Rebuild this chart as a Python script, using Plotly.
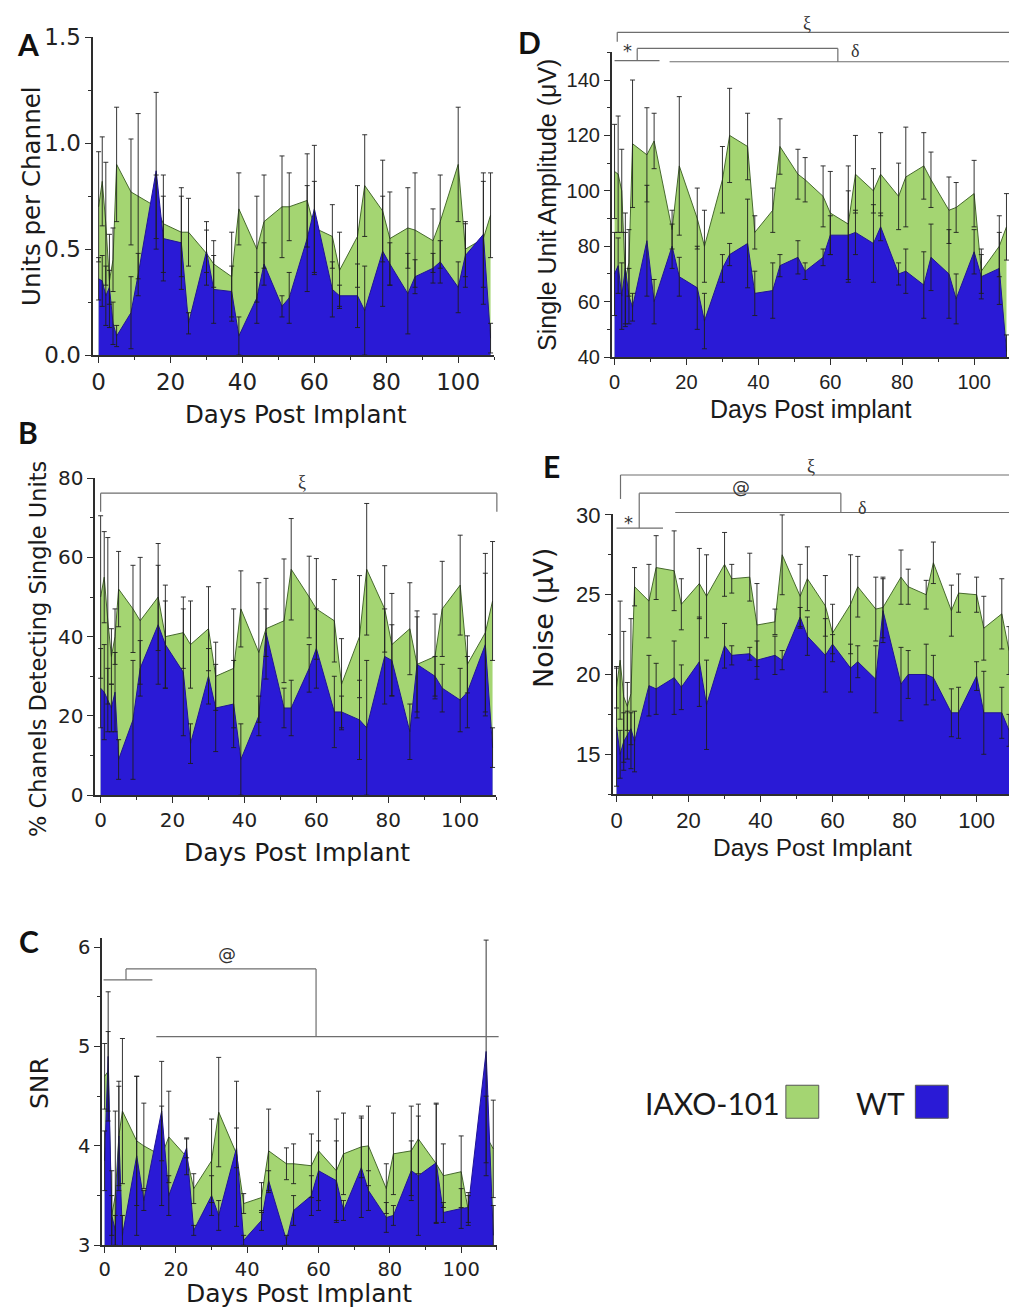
import plotly.graph_objects as go

W, H = 1009, 1315
# The photographed page is mapped vertically as y' = SC*y + OFF; compensate so targets land right.
OFF, SC = 13.0, 0.98

# ---------------- data ----------------
days = [0, 1, 2, 3, 4, 5, 9, 11, 16, 18, 23, 25, 30, 32, 37, 39, 44, 46, 51, 53,
        58, 60, 65, 67, 72, 74, 79, 81, 86, 88, 93, 95, 100, 102, 107, 109]

A_iaxo = [0.70, 0.82, 0.62, 0.35, 0.45, 0.90, 0.77, 0.75, 0.70, 0.62, 0.58, 0.58, 0.48, 0.43, 0.37, 0.69, 0.50, 0.63,
          0.70, 0.70, 0.73, 0.60, 0.56, 0.40, 0.56, 0.80, 0.68, 0.55, 0.60, 0.59, 0.54, 0.63, 0.90, 0.50, 0.55, 0.66]
A_iaxo_err = [0.26, 0.21, 0.29, 0.22, 0.15, 0.27, 0.25, 0.39, 0.15, 0.23, 0.21, 0.16, 0.15, 0.11, 0.21, 0.17, 0.25, 0.22,
              0.24, 0.16, 0.22, 0.22, 0.15, 0.18, 0.24, 0.24, 0.24, 0.22, 0.19, 0.27, 0.15, 0.22, 0.27, 0.13, 0.31, 0.20]
A_wt = [0.36, 0.35, 0.28, 0.32, 0.15, 0.09, 0.20, 0.38, 0.87, 0.55, 0.53, 0.15, 0.49, 0.31, 0.30, 0.09, 0.27, 0.43,
        0.23, 0.27, 0.55, 0.69, 0.31, 0.28, 0.28, 0.21, 0.49, 0.43, 0.29, 0.37, 0.41, 0.44, 0.32, 0.47, 0.57, 0.08]
A_wt_err = [0.10, 0.12, 0.14, 0.08, 0.10, 0.05, 0.17, 0.10, 0.37, 0.20, 0.22, 0.05, 0.10, 0.16, 0.12, 0.09, 0.12, 0.10,
            0.05, 0.12, 0.25, 0.30, 0.13, 0.05, 0.15, 0.21, 0.26, 0.10, 0.19, 0.08, 0.07, 0.10, 0.12, 0.15, 0.25, 0.07]

B_iaxo = [50, 55, 44, 35, 40, 52, 47, 44, 50, 40, 41, 38, 42, 30, 32, 47, 36, 42,
          44, 57, 50, 47, 44, 28, 40, 57, 47, 38, 42, 33, 35, 47, 53, 33, 41, 49]
B_iaxo_err = [20.5, 11.5, 21, 7, 7, 9.5, 11, 16, 13.5, 13, 9, 11, 10.6, 8.6, 15, 9.6, 17.6, 12.7,
              15.6, 12.8, 10.3, 12.7, 10.4, 11.5, 15.4, 16.6, 10.9, 12.9, 11.6, 13.5, 10.7, 12, 12.6, 7.2, 20, 15]
B_wt = [27, 26, 24, 22, 26, 9, 19, 32, 43, 38, 31, 13, 30, 22, 23, 9, 20, 41,
        22, 22, 32, 37, 21, 21, 19, 17, 35, 34, 16, 33, 30, 27, 24, 26, 38, 12]
B_wt_err = [10, 12, 8, 6, 10, 5, 15, 7, 15, 11, 16, 5, 7, 11, 11, 9, 5, 6,
            5, 7, 6, 10, 9, 4, 10, 17, 12, 9, 7, 12, 5, 6, 8, 9, 18, 5]

C_iaxo = [4.70, 4.75, 3.30, 3.50, 4.10, 4.35, 4.05, 4.00, 3.90, 4.09, 3.89, 3.57, 3.85, 4.34, 3.92, 3.42, 3.48, 3.95,
          3.82, 3.82, 3.80, 3.95, 3.75, 3.92, 3.99, 4.00, 3.57, 3.92, 3.95, 4.07, 3.82, 3.70, 3.74, 3.35, 4.10, 3.97]
C_iaxo_err = [0.33, 0.40, 0.45, 0.85, 0.55, 0.73, 0.65, 0.43, 0.50, 0.46, 0.18, 0.15, 0.42, 0.55, 0.73, 0.10, 0.15, 0.42,
              0.16, 0.20, 0.32, 0.60, 0.52, 0.41, 0.31, 0.40, 0.25, 0.41, 0.45, 0.35, 0.60, 0.32, 0.36, 0.15, 0.40, 0.49]
C_wt = [3.85, 4.90, 3.30, 3.15, 4.10, 3.10, 3.90, 3.45, 4.35, 3.50, 3.98, 3.15, 3.50, 3.30, 3.98, 3.05, 3.25, 3.65,
        3.05, 3.35, 3.50, 3.75, 3.65, 3.35, 3.78, 3.55, 3.28, 3.30, 3.75, 3.70, 3.83, 3.33, 3.37, 3.38, 4.95, 3.10]
C_wt_err = [0.30, 0.65, 0.20, 0.15, 0.50, 0.20, 0.80, 0.10, 0.50, 0.20, 0.10, 0.05, 0.20, 0.15, 0.20, 0.05, 0.10, 0.10,
            0.05, 0.15, 0.20, 0.30, 0.40, 0.10, 0.50, 0.20, 0.15, 0.10, 0.30, 0.60, 0.60, 0.10, 0.20, 0.15, 1.12, 0.30]

D_iaxo = [107, 106, 100, 68, 74, 117, 113, 118, 86, 109, 90, 80, 104, 120, 116, 85, 93, 116,
          106, 104, 98, 92, 88, 106, 100, 106, 98, 105, 109, 104, 93, 94, 99, 71, 80, 87]
D_iaxo_err = [17, 21, 15, 17, 12, 23, 17, 10, 7, 25, 11, 13, 12, 17, 12, 6, 8, 10,
              9, 8, 11, 15, 21, 14, 8, 15, 12, 18, 12, 10, 12, 9, 12, 8, 11, 12]
D_wt = [70, 73, 62, 72, 62, 58, 82, 60, 80, 69, 65, 53, 72, 77, 81, 63, 64, 73,
        76, 71, 76, 84, 84, 85, 81, 87, 70, 71, 66, 76, 70, 61, 78, 69, 72, 42]
D_wt_err = [15, 10, 12, 20, 10, 5, 20, 8, 8, 7, 15, 10, 5, 4, 16, 8, 10, 4,
            6, 3, 3, 7, 16, 8, 14, 5, 4, 8, 12, 12, 16, 9, 8, 8, 13, 6]

E_iaxo = [19.2, 20.9, 18.6, 18.0, 18.8, 25.5, 24.6, 26.7, 26.5, 24.4, 25.7, 24.9, 26.9, 26.0, 26.1, 23.1, 23.3, 27.5,
          24.9, 26.0, 24.3, 22.6, 24.4, 25.5, 24.1, 24.2, 26.1, 25.5, 25.0, 27.0, 24.0, 25.1, 25.0, 22.9, 23.8, 21.5]
E_iaxo_err = [1.3, 3.7, 4.1, 1.5, 4.7, 1.2, 2.3, 2.0, 2.5, 1.6, 2.2, 2.6, 2.0, 0.9, 1.5, 2.6, 0.8, 2.5,
              2.0, 2.0, 1.9, 1.8, 3.1, 1.9, 2.0, 1.9, 1.7, 1.1, 0.9, 1.3, 1.6, 1.2, 1.1, 2.0, 2.2, 1.5]
E_wt = [16.7, 15.0, 15.8, 16.2, 16.6, 15.8, 19.3, 19.1, 19.8, 19.2, 20.8, 18.1, 21.8, 21.2, 21.3, 20.9, 21.2, 20.9,
        23.6, 22.4, 21.2, 21.9, 20.4, 20.8, 19.7, 24.0, 19.4, 20.0, 20.0, 19.8, 17.6, 17.6, 19.9, 17.6, 17.6, 16.5]
E_wt_err = [3.7, 1.5, 1.8, 1.5, 1.0, 1.9, 1.9, 1.6, 2.3, 1.4, 2.8, 2.8, 1.4, 0.6, 0.4, 1.2, 1.2, 0.6,
            0.6, 1.2, 2.3, 0.6, 1.5, 1.0, 2.1, 2.0, 2.3, 1.5, 1.9, 1.4, 1.5, 1.6, 0.9, 2.6, 1.6, 1.0]

x_ticks = [0, 20, 40, 60, 80, 100]
legend_labels = ["IAXO-101", "WT"]

GREEN = "rgb(164,213,114)"
GREEN_LINE = "rgb(70,105,45)"
BLUE = "rgb(42,26,214)"
BLUE_LINE = "rgb(32,20,150)"
ERR = "rgb(30,30,30)"
AX = "rgb(45,45,45)"
BRK = "rgb(110,110,110)"
SANS_A = "DejaVu Sans"
SANS_D = "Liberation Sans, Arial"

# panel geometry in target pixels: (left, right), (top, bottom)
panels = [
    dict(key="A", n="", px=(89.6, 492.1), py=(37.3, 355.0), xr=(-1.5, 110), yr=(0, 1.5),
         y=A_iaxo, ye=A_iaxo_err, b=A_wt, be=A_wt_err, ydt=0.5, yt0=0, ymin=0.25, yfmt=".1f",
         font=SANS_A, tfs=23, xtitle="Days Post Implant", ytitle="Units per Channel",
         xt=(293, 414, 24.5), yt=(27, 196, 24.5), lab=(24, 44)),
    dict(key="B", n="2", px=(91.6, 494.1), py=(478.0, 795.0), xr=(-1.5, 110), yr=(0, 80),
         y=B_iaxo, ye=B_iaxo_err, b=B_wt, be=B_wt_err, ydt=20, yt0=0, ymin=10, yfmt="",
         font=SANS_A, tfs=20, xtitle="Days Post Implant", ytitle="% Chanels Detecting Single Units",
         xt=(294, 852, 25), yt=(34, 649, 22.5), lab=(24, 432)),
    dict(key="C", n="3", px=(98.5, 494.8), py=(937.9, 1245.0), xr=(-0.7, 110), yr=(3, 6.09),
         y=C_iaxo, ye=C_iaxo_err, b=C_wt, be=C_wt_err, ydt=1, yt0=3, ymin=0.5, yfmt="",
         font=SANS_A, tfs=19.5, xtitle="Days Post Implant", ytitle="SNR",
         xt=(296, 1293, 25), yt=(35, 1083, 25), lab=(25, 941)),
    dict(key="D", n="4", px=(610.1, 1009.0), py=(52.3, 357.0), xr=(-0.8, 109.7), yr=(40, 150),
         y=D_iaxo, ye=D_iaxo_err, b=D_wt, be=D_wt_err, ydt=20, yt0=40, ymin=10, yfmt="",
         font=SANS_D, tfs=20, xtitle="Days Post implant", ytitle="Single Unit Amplitude (μV)",
         xt=(810, 409, 25), yt=(545, 205, 25), lab=(528, 42)),
    dict(key="E", n="5", px=(611.0, 1009.0), py=(514.0, 794.0), xr=(-1.1, 109.0), yr=(12.5, 30.05),
         y=E_iaxo, ye=E_iaxo_err, b=E_wt, be=E_wt_err, ydt=5, yt0=15, ymin=2.5, yfmt="",
         font=SANS_D, tfs=22, xtitle="Days Post Implant", ytitle="Noise (μV)",
         xt=(812, 847, 24.5), yt=(541, 618, 27), lab=(550, 466)),
]


def py2paper(ypx):
    return 1 - ((ypx - OFF) / SC) / H


def px2paper(xpx):
    return xpx / W


def to_paper(p, xv, yv):
    (l, r), (t, b) = p["px"], p["py"]
    x0, x1 = p["xr"]
    y0, y1 = p["yr"]
    px = l + (xv - x0) / (x1 - x0) * (r - l)
    py = b - (yv - y0) / (y1 - y0) * (b - t)
    return px2paper(px), py2paper(py)


fig = go.Figure()
layout = dict(width=W, height=H, margin=dict(l=0, r=0, t=0, b=0),
              paper_bgcolor="white", plot_bgcolor="white", showlegend=False)
shapes, annos = [], []

for p in panels:
    xa, ya = "x" + p["n"], "y" + p["n"]
    for vals, fc, lc in ((p["y"], GREEN, GREEN_LINE), (p["b"], BLUE, BLUE_LINE)):
        fig.add_trace(go.Scatter(x=days, y=vals, mode="lines", fill="tozeroy", fillcolor=fc,
                                 line=dict(color=lc, width=1), xaxis=xa, yaxis=ya, hoverinfo="skip"))
    for vals, errs in ((p["y"], p["ye"]), (p["b"], p["be"])):
        fig.add_trace(go.Scatter(x=days, y=vals, mode="markers",
                                 marker=dict(size=2, color="rgba(0,0,0,0)"),
                                 error_y=dict(type="data", array=errs, color=ERR, thickness=0.9, width=2.5),
                                 xaxis=xa, yaxis=ya, hoverinfo="skip"))
    (l, r), (t, b) = p["px"], p["py"]
    common = dict(showline=True, linecolor=AX, linewidth=1.5, ticks="outside", ticklen=6, tickwidth=1.2,
                  tickcolor=AX, showgrid=False, zeroline=False,
                  tickfont=dict(family=p["font"], size=p["tfs"], color="#222"))
    layout["xaxis" + p["n"]] = dict(common, domain=[px2paper(l), px2paper(r)], range=list(p["xr"]), anchor=ya,
                                    tickmode="array", tickvals=x_ticks,
                                    minor=dict(ticks="outside", ticklen=3, tickcolor=AX, dtick=10, tick0=0))
    layout["yaxis" + p["n"]] = dict(common, domain=[py2paper(b), py2paper(t)], range=list(p["yr"]), anchor=xa,
                                    tick0=p["yt0"], dtick=p["ydt"], tickformat=p["yfmt"],
                                    minor=dict(ticks="outside", ticklen=3, tickcolor=AX, dtick=p["ymin"],
                                               tick0=p["yt0"]))
    annos.append(dict(x=px2paper(p["xt"][0]), y=py2paper(p["xt"][1]), xref="paper", yref="paper",
                      text=p["xtitle"], showarrow=False, xanchor="center", yanchor="middle",
                      font=dict(family=p["font"], size=p["xt"][2], color="#1a1a1a")))
    ytf = "DejaVu Sans" if p["key"] == "E" else p["font"]
    annos.append(dict(x=px2paper(p["yt"][0]), y=py2paper(p["yt"][1]), xref="paper", yref="paper",
                      text=p["ytitle"], showarrow=False, xanchor="center", yanchor="middle", textangle=-90,
                      font=dict(family=ytf, size=p["yt"][2], color="#1a1a1a")))
    annos.append(dict(x=px2paper(p["lab"][0]), y=py2paper(p["lab"][1]), xref="paper", yref="paper",
                      text="<b>%s</b>" % p["key"], showarrow=False, xanchor="center", yanchor="middle",
                      font=dict(family="Lato", size=30, color="#111")))

brackets = {
    "B": [((0, 76.2), (110.2, 76.2)), ((0, 76.2), (0, 71.5)), ((110.2, 76.2), (110.2, 71.5))],
    "C": [((-0.3, 5.67), (13.4, 5.67)), ((6, 5.67), (6, 5.78)), ((6, 5.78), (59.3, 5.78)),
          ((59.3, 5.78), (59.3, 5.10)), ((14.5, 5.10), (110.5, 5.10))],
    "D": [((0.75, 157.2), (112, 157.2)), ((0.75, 157.2), (0.75, 153.8)), ((0, 147.0), (12.5, 147.0)),
          ((6.3, 147.0), (6.3, 151.4)), ((6.3, 151.4), (62.1, 151.4)), ((62.1, 151.4), (62.1, 146.6)),
          ((15.3, 146.6), (112, 146.6))],
    "E": [((1.1, 32.5), (112, 32.5)), ((1.1, 32.5), (1.1, 31.0)), ((0, 29.17), (12.9, 29.17)),
          ((6.3, 29.17), (6.3, 31.36)), ((6.3, 31.36), (62.3, 31.36)), ((62.3, 31.36), (62.3, 30.15)),
          ((16.3, 30.15), (112, 30.15))],
}
marks = {
    "B": [("ξ", 56, 79.0, "serif")],
    "C": [("@", 34.4, 5.94, "sans")],
    "D": [("ξ", 53.6, 160.7, "serif"), ("*", 3.6, 150.6, "sans"), ("δ", 67, 150.6, "serif")],
    "E": [("ξ", 53.9, 33.06, "serif"), ("@", 34.6, 31.75, "sans"), ("*", 3.2, 29.5, "sans"),
          ("δ", 68.3, 30.45, "serif")],
}
pmap = {p["key"]: p for p in panels}
for k, segs in brackets.items():
    p = pmap[k]
    for (xa0, ya0), (xa1, ya1) in segs:
        X0, Y0 = to_paper(p, xa0, ya0)
        X1, Y1 = to_paper(p, xa1, ya1)
        shapes.append(dict(type="line", xref="paper", yref="paper", x0=X0, y0=Y0, x1=X1, y1=Y1,
                           line=dict(color=BRK, width=1.2)))
for k, items in marks.items():
    p = pmap[k]
    for txt, xv, yv, fam in items:
        X, Y = to_paper(p, xv, yv)
        annos.append(dict(x=X, y=Y, xref="paper", yref="paper", text=txt, showarrow=False,
                          xanchor="center", yanchor="middle",
                          font=dict(family="Liberation Serif" if fam == "serif" else "DejaVu Sans",
                                    size=18, color="#333")))

leg = [(legend_labels[0], 711.7, (785, 818), GREEN), (legend_labels[1], 880, (915, 948), BLUE)]
for txt, cx, (bx0, bx1), col in leg:
    annos.append(dict(x=px2paper(cx), y=py2paper(1103), xref="paper", yref="paper", text=txt, showarrow=False,
                      xanchor="center", yanchor="middle", font=dict(family="Lato", size=30, color="#1a1a1a")))
    shapes.append(dict(type="rect", xref="paper", yref="paper", x0=px2paper(bx0), x1=px2paper(bx1),
                       y0=py2paper(1118), y1=py2paper(1085), fillcolor=col, line=dict(color="#555", width=1)))

layout["shapes"] = shapes
layout["annotations"] = annos
fig.update_layout(**layout)
fig.write_html("out.html", config={"displayModeBar": False},
               post_script="document.body.style.margin='0';document.body.style.padding='0';"
                           "document.body.style.overflow='hidden';")
